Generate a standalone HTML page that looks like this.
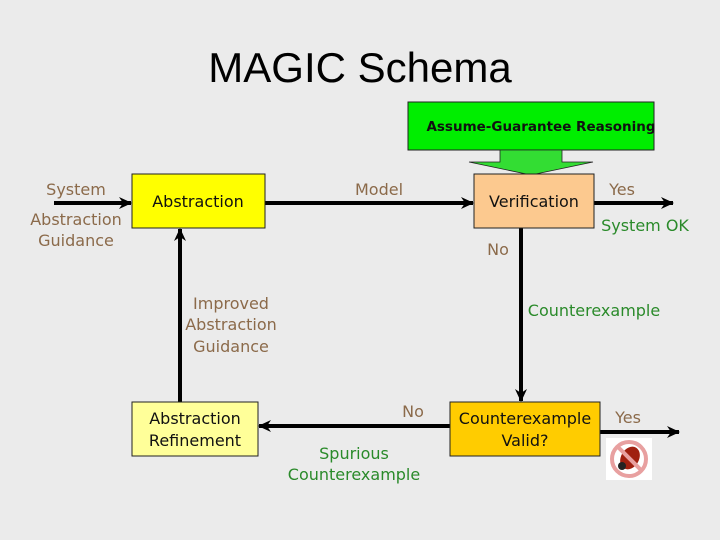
<!DOCTYPE html>
<html><head><meta charset="utf-8"><style>
body{margin:0;width:720px;height:540px;background:#ebebeb;overflow:hidden;font-family:"DejaVu Sans","Liberation Sans",sans-serif}
</style></head><body>
<svg width="720" height="540" xmlns="http://www.w3.org/2000/svg" style="position:absolute;left:0;top:0">
<defs><marker id="a" markerWidth="14" markerHeight="14" refX="12" refY="7" orient="auto" markerUnits="userSpaceOnUse"><path d="M0,1 L13,7 L0,13 L4,7 z" fill="#000"/></marker></defs>
<text x="360" y="82" text-anchor="middle" font-family="Liberation Sans, sans-serif" font-size="42" fill="#000">MAGIC Schema</text>
<rect x="408" y="102" width="246" height="48" fill="#00ee00" stroke="#222" stroke-width="1"/>
<path d="M500,150 L500,162 L469,162 L531,175 L593,162 L562,162 L562,150 z" fill="#33dd33" stroke="#222" stroke-width="0.8"/>
<text x="541" y="131" text-anchor="middle" font-size="13.5" font-weight="bold" fill="#111">Assume-Guarantee Reasoning</text>
<g stroke="#000" stroke-width="4" fill="none">
<line x1="54" y1="203" x2="131" y2="203" marker-end="url(#a)"/>
<line x1="265" y1="203" x2="473" y2="203" marker-end="url(#a)"/>
<line x1="594" y1="203" x2="673" y2="203" marker-end="url(#a)"/>
<line x1="521" y1="228" x2="521" y2="401" marker-end="url(#a)"/>
<line x1="450" y1="426" x2="259" y2="426" marker-end="url(#a)"/>
<line x1="180" y1="402" x2="180" y2="229" marker-end="url(#a)"/>
<line x1="600" y1="432" x2="679" y2="432" marker-end="url(#a)"/>
</g>
<rect x="132" y="174" width="133" height="54" fill="#ffff00" stroke="#222"/>
<rect x="474" y="174" width="120" height="54" fill="#fcc98f" stroke="#222"/>
<rect x="132" y="402" width="126" height="54" fill="#ffff99" stroke="#222"/>
<rect x="450" y="402" width="150" height="54" fill="#ffcc00" stroke="#222"/>
<g font-size="16" fill="#111" text-anchor="middle">
<text x="198" y="207">Abstraction</text>
<text x="534" y="207">Verification</text>
<text x="195" y="424">Abstraction</text>
<text x="195" y="446">Refinement</text>
<text x="525" y="424">Counterexample</text>
<text x="525" y="446">Valid?</text>
</g>
<g font-size="16" fill="#8b6a4a" text-anchor="middle">
<text x="76" y="195">System</text>
<text x="76" y="225">Abstraction</text>
<text x="76" y="246">Guidance</text>
<text x="379" y="195">Model</text>
<text x="622" y="195">Yes</text>
<text x="498" y="255">No</text>
<text x="231" y="309">Improved</text>
<text x="231" y="330">Abstraction</text>
<text x="231" y="352">Guidance</text>
<text x="413" y="417">No</text>
<text x="628" y="423">Yes</text>
</g>
<g font-size="16" fill="#2a8a2a" text-anchor="middle">
<text x="645" y="231">System OK</text>
<text x="594" y="316">Counterexample</text>
<text x="354" y="459">Spurious</text>
<text x="354" y="480">Counterexample</text>
</g>
<rect x="606" y="438" width="46" height="42" fill="#fff"/>
<circle cx="629" cy="459" r="17" fill="none" stroke="#e8a0a0" stroke-width="4"/>
<ellipse cx="630" cy="458" rx="9" ry="12" fill="#a02010" transform="rotate(30 630 458)"/>
<circle cx="622" cy="466" r="4" fill="#222"/>
<line x1="617" y1="446" x2="642" y2="471" stroke="#e8a0a0" stroke-width="4"/>
</svg>
</body></html>
